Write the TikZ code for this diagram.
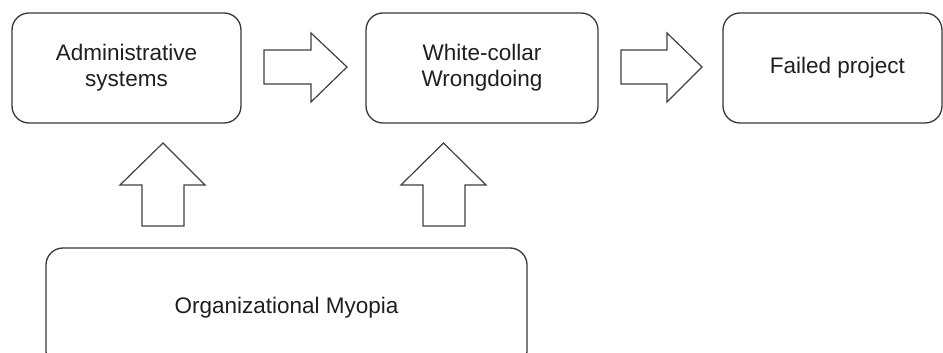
\documentclass[tikz,border=0pt]{standalone}
\usepackage{fontspec}
\setmainfont{Liberation Sans}
\begin{document}
\begin{tikzpicture}[x=1pt,y=1pt,
  box/.style={draw=black!78, line width=1.3pt, rounded corners=17pt, fill=white,
    align=center, inner sep=0pt, text=black!88,
    font=\fontsize{22.5}{26}\selectfont},
  blockarrow/.style={draw=black!75, line width=1.2pt, line join=miter, fill=white}]
\useasboundingbox (0,0) rectangle (943,353);
\clip (0,0) rectangle (943,353);
% boxes
\node[box, minimum width=229pt, minimum height=110pt] (admin) at (126.5,285) {Administrative\\systems};
\node[box, minimum width=232pt, minimum height=110pt] (white) at (482,285) {White-collar\\Wrongdoing};
\node[box, minimum width=219pt, minimum height=110pt] (failed) at (832.5,285) {\hspace*{10pt}Failed project};
\node[box, minimum width=481pt, minimum height=120pt] (myopia) at (286.5,45) {\raisebox{3pt}{Organizational Myopia}};
% right block arrows
\draw[blockarrow] (264,303) -- (311,303) -- (311,320) -- (347,286) -- (311,251) -- (311,269) -- (264,269) -- cycle;
\draw[blockarrow] (621,303) -- (667,303) -- (667,320) -- (702,286) -- (667,251) -- (667,269) -- (621,269) -- cycle;
% up block arrows
\draw[blockarrow] (142,127) -- (142,168) -- (120,168) -- (163,210) -- (205,168) -- (184,168) -- (184,127) -- cycle;
\draw[blockarrow] (423,127) -- (423,168) -- (401,168) -- (443.5,210) -- (486,168) -- (465,168) -- (465,127) -- cycle;
\end{tikzpicture}
\end{document}
